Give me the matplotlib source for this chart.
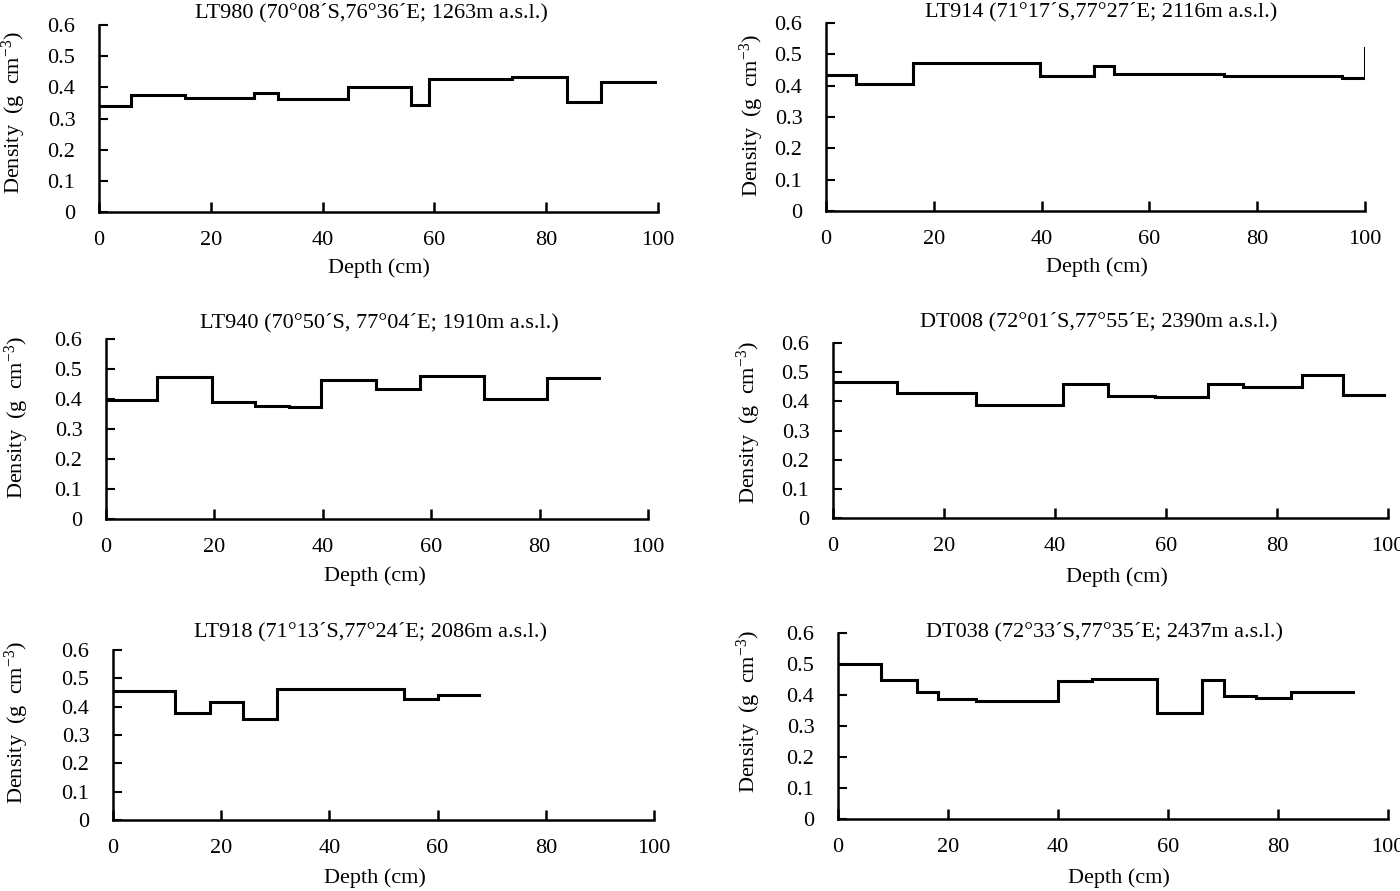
import matplotlib
matplotlib.use("Agg")
import matplotlib.pyplot as plt
from matplotlib.ticker import FuncFormatter

# ---------------- data (depth breakpoints in cm, density in g cm-3; step 'post') -----
lt980_depth = [0, 5.7, 15.3, 27.7, 32.1, 44.6, 55.8, 59.0, 73.8, 83.8, 89.8, 99.5]
lt980_dens = [0.340, 0.375, 0.366, 0.382, 0.364, 0.401, 0.342, 0.426, 0.433, 0.352, 0.417, 0.417]

lt914_depth = [0, 5.5, 16.1, 39.7, 49.8, 53.4, 73.9, 95.8, 100]
lt914_dens = [0.434, 0.405, 0.471, 0.430, 0.463, 0.436, 0.430, 0.425, 0.52]

lt940_depth = [0, 9.4, 19.5, 27.4, 33.8, 39.7, 49.8, 57.9, 69.8, 81.3, 90.9]
lt940_dens = [0.398, 0.474, 0.390, 0.377, 0.372, 0.465, 0.433, 0.478, 0.400, 0.469, 0.469]

dt008_depth = [0, 11.6, 25.7, 41.5, 49.6, 58.0, 67.6, 73.8, 84.5, 91.9, 99.2]
dt008_dens = [0.468, 0.427, 0.387, 0.458, 0.420, 0.414, 0.461, 0.449, 0.490, 0.422, 0.422]

lt918_depth = [0, 11.45, 17.9, 24.1, 30.3, 53.8, 60.0, 67.7]
lt918_dens = [0.455, 0.378, 0.415, 0.358, 0.464, 0.426, 0.440, 0.440]

dt038_depth = [0, 7.9, 14.3, 18.1, 25, 40, 46.1, 58, 66.1, 70.2, 76, 82.4, 93.6]
dt038_dens = [0.500, 0.450, 0.410, 0.388, 0.382, 0.444, 0.452, 0.343, 0.450, 0.397, 0.390, 0.410, 0.410]

titles = [
    "LT980 (70\u00b008\u00b4S,76\u00b036\u00b4E; 1263m a.s.l.)",
    "LT914 (71\u00b017\u00b4S,77\u00b027\u00b4E; 2116m a.s.l.)",
    "LT940 (70\u00b050\u00b4S, 77\u00b004\u00b4E; 1910m a.s.l.)",
    "DT008 (72\u00b001\u00b4S,77\u00b055\u00b4E; 2390m a.s.l.)",
    "LT918 (71\u00b013\u00b4S,77\u00b024\u00b4E; 2086m a.s.l.)",
    "DT038 (72\u00b033\u00b4S,77\u00b035\u00b4E; 2437m a.s.l.)",
]
profiles = [
    (lt980_depth, lt980_dens), (lt914_depth, lt914_dens),
    (lt940_depth, lt940_dens), (dt008_depth, dt008_dens),
    (lt918_depth, lt918_dens), (dt038_depth, dt038_dens),
]
x_ticks = [0, 20, 40, 60, 80, 100]
y_ticks = [0, 0.1, 0.2, 0.3, 0.4, 0.5, 0.6]
x_label = "Depth (cm)"
y_label = "Density  (g  cm$^{-3}$)"

# ---------------- layout (pixels) -----------------
W, H = 1400, 891
# left, right, top(0.6), bottom(0)
boxes = [
    (99, 658, 25, 212),
    (826, 1365, 23, 211),
    (106, 648, 339, 519),
    (833, 1388, 343, 518),
    (113, 654, 650, 820),
    (838, 1388, 633, 819),
]
title_pos = [(371, 13), (1101, 12), (379, 323), (1099, 322), (370, 632), (1105, 632)]
ylab_pos = [(14, 113), (752, 116), (17, 418), (749, 423), (17, 723), (749, 712)]
xlab_pos = [(379, 268), (1097, 267), (375, 576), (1117, 577), (375, 878), (1119, 878)]

plt.rcParams['font.family'] = ['Liberation Serif', 'DejaVu Serif']
plt.rcParams['mathtext.fontset'] = 'custom'
plt.rcParams['mathtext.rm'] = 'Liberation Serif'
plt.rcParams['mathtext.it'] = 'Liberation Serif:italic'

fig = plt.figure(figsize=(W / 100, H / 100), dpi=100)
fmt = FuncFormatter(lambda v, p: "0" if abs(v) < 1e-9 else f"{v:.1f}")

for i, ((d, r), (l, rr, t, b)) in enumerate(zip(profiles, boxes)):
    ax = fig.add_axes([l / W, 1 - b / H, (rr - l) / W, (b - t) / H])
    ax.step(d, r, where='post', color='black', lw=2.2, solid_joinstyle='miter')
    ax.set_xlim(0, 100)
    ax.set_ylim(0, 0.6)
    ax.set_xticks(x_ticks)
    ax.set_yticks(y_ticks)
    ax.yaxis.set_major_formatter(fmt)
    for s in ['top', 'right']:
        ax.spines[s].set_visible(False)
    for s in ['left', 'bottom']:
        ax.spines[s].set_linewidth(1.8)
    ax.tick_params(axis='x', direction='in', length=7, width=1.8, labelsize=16, pad=14)
    ax.tick_params(axis='y', direction='in', length=6.5, width=1.5, labelsize=16, pad=17)
    ax.patch.set_alpha(0)
    tx, ty = title_pos[i]
    fig.text(tx / W, 1 - ty / H, titles[i], ha='center', va='center', fontsize=16)
    lx, ly = ylab_pos[i]
    fig.text(lx / W, 1 - ly / H, y_label, ha='center', va='center', rotation=90, fontsize=16)
    xx, xy = xlab_pos[i]
    fig.text(xx / W, 1 - xy / H, x_label, ha='center', va='center', fontsize=16)

fig.savefig("out.png", dpi=100)
